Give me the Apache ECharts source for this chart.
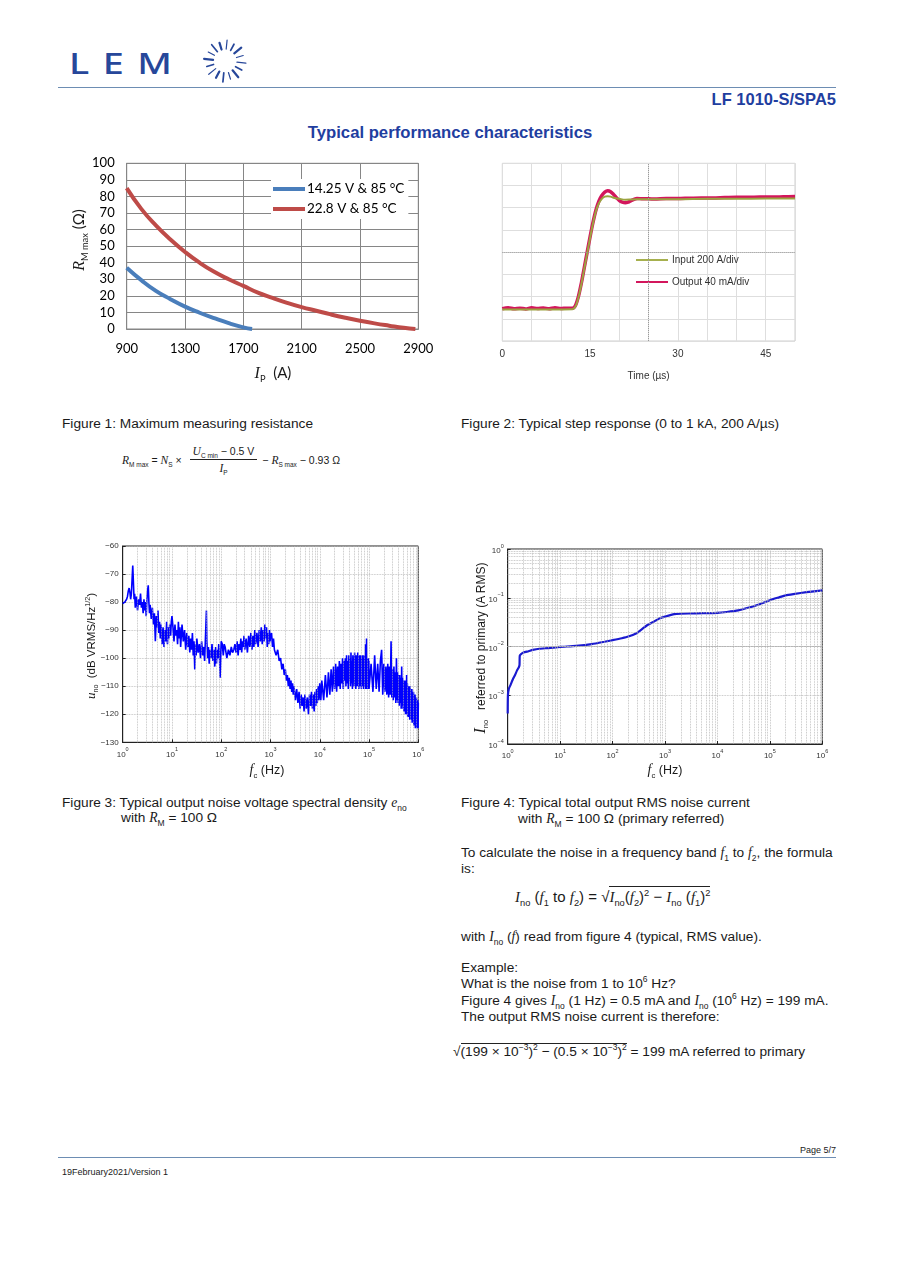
<!DOCTYPE html>
<html><head><meta charset="utf-8">
<script src="https://cdn.jsdelivr.net/npm/echarts@6/dist/echarts.min.js"></script>
<style>
body{margin:0;width:900px;height:1273px;position:relative;background:#fff;font-family:"Liberation Sans",Arial,sans-serif;color:#1a1a1a;overflow:hidden}
.a{position:absolute;white-space:nowrap}
.v{font-family:"Liberation Serif","Times New Roman",serif;font-style:italic}
sub,sup{font-size:0.62em;line-height:0}
.t{font-size:13.7px;line-height:15px}
.n{font-family:"Liberation Sans Narrow","Liberation Sans",Arial,sans-serif}
</style></head><body>

<!-- header -->
<div class="a" style="left:69px;top:44px;font-family:'Noto Sans',sans-serif;font-size:28px;letter-spacing:10px;color:#27479a;font-weight:500;transform:scaleX(1.35);transform-origin:left">LEM</div>
<svg id="sun" class="a" style="left:199px;top:36px" width="52" height="52"></svg>
<div class="a" style="left:58px;top:87px;width:778px;height:0;border-top:1.5px solid #6d8db3"></div>
<div class="a n" style="right:64px;top:90px;font-size:16.5px;font-weight:bold;color:#1f3ea0">LF 1010-S/SPA5</div>
<div class="a n" style="left:0;width:900px;text-align:center;top:123px;font-size:16.7px;font-weight:bold;color:#1f3ea0">Typical performance characteristics</div>

<!-- charts -->
<div id="c1" class="a" style="left:60px;top:150px;width:380px;height:240px"></div>
<div id="c2" class="a" style="left:480px;top:150px;width:330px;height:240px"></div>
<div id="c3" class="a" style="left:60px;top:535px;width:380px;height:240px"></div>
<div id="c4" class="a" style="left:460px;top:535px;width:380px;height:240px"></div>

<!-- fig1 axis titles -->
<div class="a" style="left:18px;top:230px;width:120px;height:20px;text-align:center;transform:rotate(-90deg);font-family:Lato,sans-serif;font-size:15px;line-height:20px"><i class="v" style="font-size:16px">R</i><sub>M max</sub> (Ω)</div>
<div class="a" style="left:213px;top:362px;width:120px;text-align:center;font-family:Lato,sans-serif;font-size:15px;line-height:20px"><i class="v" style="font-size:16px">I</i><sub>P</sub> &nbsp;(A)</div>

<!-- fig3/4 axis titles -->
<div class="a" style="left:21px;top:636px;width:140px;height:20px;text-align:center;transform:rotate(-90deg);font-size:11.5px;line-height:20px"><i class="v" style="font-size:13px">u</i><sub>no</sub> &nbsp;(dB VRMS/Hz<sup>1/2</sup>)</div>
<div class="a" style="left:380px;top:638px;width:200px;height:20px;text-align:center;transform:rotate(-90deg);font-size:12px;line-height:20px"><i class="v" style="font-size:16px">I</i><sub>no</sub> &nbsp;&nbsp;referred to primary (A RMS)</div>
<div class="a" style="left:207px;top:760px;width:120px;text-align:center;font-size:12.5px;line-height:20px"><i class="v" style="font-size:14px">f</i><sub>c</sub> (Hz)</div>
<div class="a" style="left:605px;top:760px;width:120px;text-align:center;font-size:12.5px;line-height:20px"><i class="v" style="font-size:14px">f</i><sub>c</sub> (Hz)</div>

<!-- captions -->
<div class="a t" style="left:62px;top:416px">Figure 1: Maximum measuring resistance</div>
<div class="a t" style="left:461px;top:416px">Figure 2: Typical step response (0 to 1 kA, 200 A/µs)</div>

<div class="a" style="left:122px;top:445px;font-size:10.5px;display:flex;align-items:center">
 <span><i class="v" style="font-size:11.5px">R</i><sub>M max</sub> = <i class="v" style="font-size:11.5px">N</i><sub>S</sub> × </span>
 <span style="display:inline-flex;flex-direction:column;align-items:center;margin:0 5px 0 8px">
  <span style="padding:0 3px 2px"><i class="v" style="font-size:11.5px">U</i><sub>C min</sub> − 0.5 V</span>
  <span style="border-top:1px solid #222;width:100%;text-align:center;padding-top:2px"><i class="v" style="font-size:11.5px">I</i><sub>P</sub></span>
 </span>
 <span>− <i class="v" style="font-size:11.5px">R</i><sub>S max</sub> − 0.93 Ω</span>
</div>

<div class="a t" style="left:62px;top:795px">Figure 3: Typical output noise voltage spectral density <i class="v">e</i><sub>no</sub></div>
<div class="a t" style="left:121px;top:810px">with <i class="v">R</i><sub>M</sub> = 100 Ω</div>
<div class="a t" style="left:461px;top:795px">Figure 4: Typical total output RMS noise current</div>
<div class="a t" style="left:518px;top:811px">with <i class="v">R</i><sub>M</sub> = 100 Ω (primary referred)</div>

<div class="a t" style="left:461px;top:845px">To calculate the noise in a frequency band <i class="v">f</i><sub>1</sub> to <i class="v">f</i><sub>2</sub>, the formula</div>
<div class="a t" style="left:461px;top:861px">is:</div>
<div class="a" style="left:515px;top:887px;font-size:15px;line-height:20px"><i class="v">I</i><sub>no</sub> (<i class="v">f</i><sub>1</sub> to <i class="v">f</i><sub>2</sub>) = √<span style="border-top:1px solid #222;padding-top:1px"><i class="v">I</i><sub>no</sub>(<i class="v">f</i><sub>2</sub>)<sup>2</sup> − <i class="v">I</i><sub>no</sub> (<i class="v">f</i><sub>1</sub>)<sup>2</sup></span></div>

<div class="a t" style="left:461px;top:929px">with <i class="v">I</i><sub>no</sub> (<i class="v">f</i>) read from figure 4 (typical, RMS value).</div>
<div class="a t" style="left:461px;top:960px">Example:</div>
<div class="a t" style="left:461px;top:976px">What is the noise from 1 to 10<sup>6</sup> Hz?</div>
<div class="a t" style="left:461px;top:993px">Figure 4 gives <i class="v">I</i><sub>no</sub> (1 Hz) = 0.5 mA and <i class="v">I</i><sub>no</sub> (10<sup>6</sup> Hz) = 199 mA.</div>
<div class="a t" style="left:461px;top:1009px">The output RMS noise current is therefore:</div>
<div class="a t" style="left:453px;top:1044px">√<span style="border-top:1px solid #222">(199 × 10<sup>−3</sup>)<sup>2</sup> − (0.5 × 10<sup>−3</sup>)<sup>2</sup></span> = 199 mA referred to primary</div>

<!-- footer -->
<div class="a" style="right:64px;top:1145px;font-size:9px">Page 5/7</div>
<div class="a" style="left:58px;top:1157px;width:778px;height:0;border-top:1.5px solid #6d8db3"></div>
<div class="a" style="left:62px;top:1167px;font-size:9px">19February2021/Version 1</div>

<script>
// ---------- logo decoration ----------
(function(){
  const svg=document.getElementById('sun');const cx=26,cy=25;let s='';
  for(let i=0;i<16;i++){const a=i/16*Math.PI*2+0.1;const r1=12,r2=i%2?19:21;
    s+='<line x1="'+(cx+r1*Math.cos(a))+'" y1="'+(cy+r1*Math.sin(a))+'" x2="'+(cx+r2*Math.cos(a))+'" y2="'+(cy+r2*Math.sin(a))+'" stroke="#27479a" stroke-width="'+(1.2+ (i%3)*0.5)+'" stroke-linecap="round"/>';}
  svg.innerHTML=s;
})();

// ---------- Figure 1 data ----------
const fig1XLabels=['900','1300','1700','2100','2500','2900'];
const ipBlue=[900,1000,1100,1200,1300,1400,1500,1600,1700,1760];
const rmBlue=[37,29.5,23,18,13.5,9.8,6.5,3.5,1,0];
const ipRed=[900,1000,1100,1200,1300,1400,1500,1600,1700,1800,1900,2000,2100,2200,2300,2400,2500,2600,2700,2800,2880];
const rmRed=[85,72.5,62.5,54,46.5,40,34.5,30,26,22,18.8,15.8,13.2,11,8.8,6.8,5,3.4,2,0.7,0];
const fig1Names=['14.25 V & 85 °C','22.8 V & 85 °C'];

// ---------- Figure 2 data (divisions) ----------
const stepNames=['Input 200 A/div','Output 40 mA/div'];
const tOut=[0,1,2,3,4,5,6,7,8,9,10,11,12,12.5,13,13.5,14,14.5,15,15.5,16,16.5,17,17.5,18,18.5,19,19.5,20,20.5,21,21.5,22,22.5,23,24,25,26,28,30,32,34,36,38,40,42,44,46,48,50];
const vOut=[1.45,1.5,1.45,1.48,1.44,1.5,1.46,1.49,1.45,1.5,1.46,1.48,1.48,1.6,2.0,2.6,3.3,4.0,4.7,5.35,5.9,6.3,6.55,6.7,6.76,6.72,6.6,6.45,6.32,6.25,6.22,6.25,6.32,6.38,6.42,6.4,6.4,6.39,6.42,6.41,6.43,6.44,6.44,6.46,6.47,6.47,6.48,6.48,6.49,6.5];
const tIn=[0,4,8,12,12.5,13,13.5,14,14.5,15,15.5,16,16.5,17,17.5,18,18.5,19,20,21,22,23,25,30,35,40,45,50];
const vIn=[1.42,1.42,1.42,1.43,1.55,1.95,2.55,3.25,3.95,4.65,5.3,5.85,6.2,6.4,6.5,6.52,6.5,6.45,6.4,6.36,6.37,6.38,6.38,6.38,6.4,6.4,6.41,6.42];

// ---------- Figure 3 data [f Hz, dB] ----------
const noiseD0=[[1,-80.5],[1.05,-81],[1.1,-80],[1.15,-80.5],[1.2,-79],[1.25,-78],[1.3,-76],[1.35,-75],[1.4,-76.5],[1.45,-79],[1.5,-77],[1.55,-72],[1.6,-67],[1.65,-73],[1.7,-79],[1.75,-77],[1.8,-82],[1.9,-78],[2,-83],[2.1,-79],[2.2,-81],[2.3,-77],[2.4,-82],[2.5,-80],[2.6,-84],[2.7,-79],[2.8,-83],[2.9,-80],[3,-85],[3.1,-79],[3.2,-76],[3.3,-74],[3.4,-80],[3.5,-84],[3.6,-81],[3.8,-86],[4,-82],[4.2,-88],[4.4,-84],[4.6,-94],[4.8,-85],[5,-89],[5.2,-83],[5.4,-91],[5.6,-87],[5.8,-93],[6,-88],[6.3,-95],[6.6,-89],[6.9,-96],[7.2,-90],[7.5,-94],[7.8,-87],[8.1,-95],[8.4,-89],[8.7,-93],[9,-88],[9.4,-92],[9.7,-87],[10,-85]];
const noiseD1=[[10.5,-89],[11,-94],[11.5,-88],[12,-92],[12.5,-90],[13,-95],[13.5,-87],[14,-93],[14.5,-89],[15,-96],[16,-88],[17,-94],[18,-90],[19,-97],[20,-91],[21,-96],[22,-92],[23,-98],[24,-93],[25,-97],[26,-91],[27,-99],[28,-94],[29,-104],[30,-95],[31,-99],[32,-93],[34,-98],[36,-95],[38,-100],[40,-94],[42,-99],[44,-96],[46,-101],[48,-92],[50,-83],[51,-94],[53,-100],[55,-96],[57,-102],[59,-97],[62,-100],[65,-95],[68,-101],[71,-97],[74,-103],[77,-96],[80,-102],[83,-97],[86,-100],[89,-95],[92,-99],[95,-107],[98,-98],[100,-94]];
const noiseD2=[[105,-95],[110,-99],[115,-95],[120,-96],[125,-98],[130,-100],[140,-97],[150,-99],[160,-96],[170,-98],[180,-97],[190,-95],[200,-98],[210,-94],[220,-99],[230,-95],[240,-97],[250,-93],[260,-98],[270,-94],[280,-96],[290,-92],[300,-97],[320,-93],[340,-98],[360,-92],[380,-96],[400,-91],[420,-97],[440,-92],[460,-96],[480,-90],[500,-95],[530,-91],[560,-96],[590,-90],[620,-94],[650,-89],[680,-95],[710,-90],[740,-94],[770,-88],[800,-93],[830,-89],[860,-96],[890,-91],[920,-95],[950,-90],[980,-94],[1000,-92]];
const noiseD3=[[1050,-91],[1100,-96],[1150,-93],[1200,-97],[1300,-99],[1400,-97],[1500,-101],[1600,-100],[1700,-104],[1800,-102],[1900,-106],[2000,-104],[2100,-108],[2200,-106],[2300,-110],[2400,-107],[2500,-111],[2600,-108],[2700,-112],[2800,-109],[2900,-113],[3000,-110],[3200,-115],[3400,-111],[3600,-116],[3800,-112],[4000,-118],[4200,-113],[4400,-117],[4600,-114],[4800,-119],[5000,-113],[5300,-118],[5600,-114],[5900,-120],[6200,-113],[6500,-117],[6800,-112],[7100,-118],[7400,-113],[7700,-119],[8000,-112],[8300,-117],[8600,-111],[8900,-116],[9200,-110],[9600,-115],[10000,-109]];
const noiseD4=[[10500,-115],[11000,-108],[12000,-115],[13000,-106],[14000,-114],[15000,-105],[16000,-113],[17000,-104],[18000,-112],[19000,-103],[20000,-111],[21000,-102],[22000,-112],[23000,-103],[24000,-110],[25000,-101],[26000,-111],[27000,-102],[28000,-109],[29000,-100],[30000,-111],[31000,-101],[32000,-108],[33000,-100],[34000,-110],[35000,-99],[36000,-109],[37000,-101],[38000,-111],[39000,-99],[40000,-108],[41000,-100],[42000,-110],[43000,-98],[44000,-109],[45000,-101],[46000,-111],[47000,-99],[48000,-108],[49000,-100],[50000,-110],[51000,-98],[52000,-109],[53000,-101],[54000,-111],[55000,-99],[56000,-108],[57000,-100],[58000,-110],[59000,-98],[60000,-109],[61000,-101],[62000,-111],[63000,-99],[64000,-108],[65000,-100],[66000,-110],[67000,-99],[68000,-109],[69000,-101],[70000,-111],[71000,-100],[72000,-108],[73000,-99],[74000,-110],[75000,-101],[76000,-109],[77000,-100],[78000,-111],[79000,-99],[80000,-108],[81000,-101],[82000,-110],[83000,-100],[84000,-109],[85000,-95],[86000,-111],[87000,-100],[88000,-109],[89000,-93],[90000,-110],[91000,-101],[92000,-111],[93000,-100],[94000,-109],[95000,-102],[96000,-111],[97000,-100],[98000,-110],[99000,-101],[100000,-111]];
const noiseD5=[[110000,-102],[120000,-112],[130000,-99],[140000,-111],[150000,-102],[160000,-112],[170000,-101],[180000,-97],[190000,-113],[200000,-102],[210000,-112],[220000,-103],[230000,-113],[240000,-102],[250000,-114],[260000,-103],[270000,-113],[280000,-94],[290000,-114],[300000,-104],[310000,-115],[320000,-103],[330000,-114],[340000,-105],[350000,-116],[360000,-100],[370000,-115],[380000,-105],[390000,-116],[400000,-106],[410000,-117],[420000,-106],[430000,-116],[440000,-107],[450000,-118],[460000,-103],[470000,-117],[480000,-107],[490000,-118],[500000,-108],[510000,-119],[520000,-108],[530000,-118],[540000,-109],[550000,-120],[560000,-108],[570000,-119],[580000,-106],[590000,-120],[600000,-109],[610000,-121],[620000,-110],[630000,-120],[640000,-110],[650000,-121],[660000,-111],[670000,-122],[680000,-110],[690000,-121],[700000,-111],[710000,-122],[720000,-112],[730000,-121],[740000,-111],[750000,-123],[760000,-112],[770000,-122],[780000,-113],[790000,-123],[800000,-112],[810000,-124],[820000,-113],[830000,-123],[840000,-114],[850000,-124],[860000,-113],[870000,-125],[880000,-114],[890000,-124],[900000,-115],[910000,-125],[920000,-114],[930000,-124],[940000,-115],[950000,-125],[960000,-116],[970000,-124],[980000,-115],[990000,-125],[1000000,-116]];

// ---------- Figure 4 data ----------
const inoFreq=[1,1.01,1.05,1.14,1.25,1.38,1.5,1.64,1.68,1.7,1.8,2,2.5,3,4,6,10,20,40,70,100,150,200,280,350,450,600,800,1000,1500,2000,4000,10000,15000,25000,40000,60000,100000,150000,200000,300000,500000,1000000];
const inoVal=[4.2e-4,1.0e-3,1.35e-3,1.65e-3,2.1e-3,2.6e-3,3.2e-3,3.8e-3,4.2e-3,6.5e-3,7.0e-3,7.5e-3,8.0e-3,8.5e-3,9.0e-3,9.3e-3,9.8e-3,1.03e-2,1.12e-2,1.25e-2,1.35e-2,1.48e-2,1.6e-2,1.85e-2,2.2e-2,2.7e-2,3.2e-2,3.8e-2,4.1e-2,4.6e-2,4.7e-2,4.8e-2,4.9e-2,5.1e-2,5.5e-2,6.3e-2,7.2e-2,8.9e-2,1.02e-1,1.12e-1,1.2e-1,1.3e-1,1.42e-1];

const zip=(a,b)=>a.map((x,i)=>[x,b[i]]);

// ---------- Chart 1 ----------
const c1=echarts.init(document.getElementById('c1'));
const g1='#868686';
c1.setOption({
  animation:false,
  grid:{left:66.7,right:21.7,top:13.3,bottom:61,show:true,borderColor:g1,borderWidth:1},
  legend:{orient:'vertical',left:211,top:29,itemWidth:32,itemHeight:4,itemGap:6,icon:'rect',backgroundColor:'#fff',padding:[3,4,3,2],
    textStyle:{fontFamily:'Lato',fontSize:13.5,color:'#000',padding:[0,0,0,-3]},data:fig1Names},
  xAxis:[
    {type:'value',min:900,max:2900,show:false},
    {type:'category',data:fig1XLabels,boundaryGap:false,position:'bottom',axisLine:{lineStyle:{color:g1}},axisTick:{show:false},
     axisLabel:{fontFamily:'Lato',fontSize:13,color:'#000',margin:13},splitLine:{show:true,lineStyle:{color:g1,width:1}}}
  ],
  yAxis:{type:'value',min:0,max:100,interval:10,axisLine:{show:true,lineStyle:{color:g1}},axisTick:{show:false},
    axisLabel:{fontFamily:'Lato',fontSize:13,color:'#000',margin:12},splitLine:{lineStyle:{color:g1,width:1}}},
  series:[
    {name:fig1Names[0],type:'line',xAxisIndex:0,data:zip(ipBlue,rmBlue),smooth:true,showSymbol:false,lineStyle:{width:4,color:'#4a7ebb'},itemStyle:{color:'#4a7ebb'}},
    {name:fig1Names[1],type:'line',xAxisIndex:0,data:zip(ipRed,rmRed),smooth:true,showSymbol:false,lineStyle:{width:4,color:'#be4b48'},itemStyle:{color:'#be4b48'}}
  ]
});

// ---------- Chart 2 ----------
const c2=echarts.init(document.getElementById('c2'));
c2.setOption({
  animation:false,
  grid:{left:22.3,right:15,top:13.3,bottom:49,show:true,borderColor:'#cfcfcf',borderWidth:1},
  legend:{orient:'vertical',left:151,top:100,itemWidth:32,itemHeight:2,itemGap:12,icon:'rect',data:stepNames,
    textStyle:{fontFamily:'Liberation Sans',fontSize:10,color:'#333',padding:[0,0,0,-1]}},
  xAxis:{type:'value',min:0,max:50,interval:5,name:'Time (µs)',nameLocation:'middle',nameGap:30,
    nameTextStyle:{fontFamily:'Liberation Sans',fontSize:10,color:'#333'},
    axisLine:{show:false},axisTick:{show:false},
    axisLabel:{fontFamily:'Liberation Sans',fontSize:10,color:'#333',margin:8,formatter:v=>(v%15===0?String(v):'')},
    splitLine:{lineStyle:{color:'#dedede',width:1}}},
  yAxis:{type:'value',min:0,max:8,interval:1,axisLine:{show:false},axisTick:{show:false},axisLabel:{show:false},
    splitLine:{lineStyle:{color:'#dedede',width:1}}},
  series:[
    {name:'grid',type:'line',data:[],z:1,silent:true,
     markLine:{silent:true,symbol:'none',label:{show:false},lineStyle:{type:'dotted',color:'#9a9a9a',width:1},data:[{xAxis:25},{yAxis:4}]}},
    {name:stepNames[1],type:'line',data:zip(tOut,vOut),smooth:0.3,showSymbol:false,z:3,lineStyle:{width:3.5,color:'#d3165c'},itemStyle:{color:'#d3165c'}},
    {name:stepNames[0],type:'line',data:zip(tIn,vIn),smooth:0.3,showSymbol:false,z:4,lineStyle:{width:2,color:'#9ba340'},itemStyle:{color:'#a6b04e'}}
  ]
});

// ---------- helpers for log charts ----------
const expLabel=v=>{const e=Math.round(Math.log10(v));return '{b|10}{s|'+String(e).replace('-','\u2212')+'}';};
const logRich={b:{fontSize:8,lineHeight:12,verticalAlign:'bottom',color:'#333',fontFamily:'Liberation Sans'},
               s:{fontSize:5.5,lineHeight:7,verticalAlign:'top',color:'#333',fontFamily:'Liberation Sans'}};
const minorX=[];for(let d=0;d<6;d++){for(let k=2;k<10;k++){minorX.push({xAxis:k*Math.pow(10,d)});}}
const minorY=[];for(let d=-4;d<0;d++){for(let k=2;k<10;k++){minorY.push({yAxis:k*Math.pow(10,d)});}}
const dotGrid={type:'dotted',color:'#b4b4b4',width:0.8};

// ---------- Chart 3 ----------
const c3=echarts.init(document.getElementById('c3'));
c3.setOption({
  animation:false,
  grid:{left:62.7,right:21.7,top:11,bottom:32.7,show:true,borderColor:'#222',borderWidth:1},
  xAxis:{type:'log',logBase:10,min:1,max:1e6,interval:1,axisLine:{show:true,lineStyle:{color:'#222'}},
    axisTick:{inside:true,length:3,lineStyle:{color:'#222'}},
    axisLabel:{formatter:expLabel,rich:logRich,margin:4},splitLine:{show:true,lineStyle:dotGrid}},
  yAxis:{type:'value',min:-130,max:-60,interval:10,axisLine:{show:true,lineStyle:{color:'#222'}},
    axisTick:{inside:true,length:3,lineStyle:{color:'#222'}},
    axisLabel:{fontSize:8,color:'#333',fontFamily:'Liberation Sans',margin:4,formatter:v=>String(v).replace('-','\u2212')},
    splitLine:{lineStyle:dotGrid}},
  series:[
    {name:'grid',type:'line',data:[],z:1,silent:true,
     markLine:{silent:true,symbol:'none',label:{show:false},lineStyle:dotGrid,data:minorX}},
    {type:'line',data:[].concat(noiseD0,noiseD1,noiseD2,noiseD3,noiseD4,noiseD5),showSymbol:false,z:3,
     lineStyle:{width:1.6,color:'#0000ff'}}
  ]
});

// ---------- Chart 4 ----------
const c4=echarts.init(document.getElementById('c4'));
c4.setOption({
  animation:false,
  grid:{left:47.7,right:17.7,top:14,bottom:31,show:true,borderColor:'#222',borderWidth:1},
  xAxis:{type:'log',logBase:10,min:1,max:1e6,interval:1,axisLine:{show:true,lineStyle:{color:'#222'}},
    axisTick:{inside:true,length:3,lineStyle:{color:'#222'}},
    axisLabel:{formatter:expLabel,rich:logRich,margin:4},splitLine:{show:true,lineStyle:dotGrid}},
  yAxis:{type:'log',logBase:10,min:1e-4,max:1,interval:1,axisLine:{show:true,lineStyle:{color:'#222'}},
    axisTick:{inside:true,length:3,lineStyle:{color:'#222'}},
    axisLabel:{formatter:expLabel,rich:logRich,margin:4},splitLine:{show:true,lineStyle:dotGrid}},
  series:[
    {name:'grid',type:'line',data:[],z:1,silent:true,
     markLine:{silent:true,symbol:'none',label:{show:false},lineStyle:dotGrid,data:minorX.concat(minorY)}},
    {type:'line',data:zip(inoFreq,inoVal),showSymbol:false,z:3,smooth:0.2,lineStyle:{width:2.2,color:'#1a1ad0'}}
  ]
});
</script>
</body></html>
